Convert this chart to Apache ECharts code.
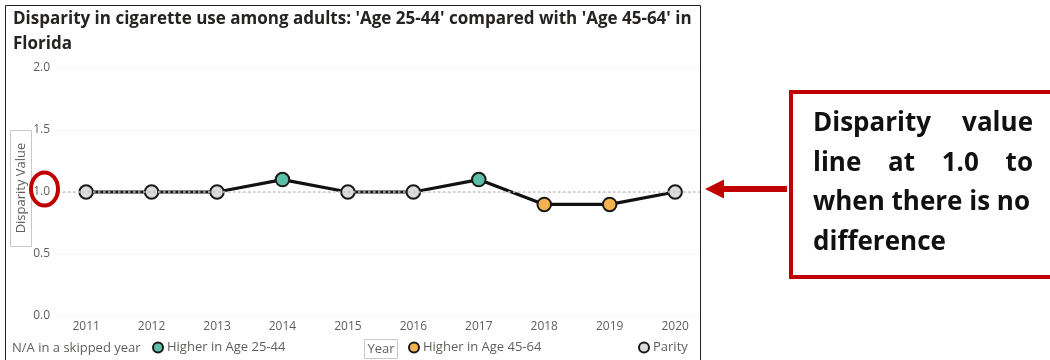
<!DOCTYPE html>
<html>
<head>
<meta charset="utf-8">
<script src="https://cdn.jsdelivr.net/npm/echarts@6/dist/echarts.min.js"></script>
<style>
  html, body { margin: 0; padding: 0; background: #fff; }
  #chart { width: 1050px; height: 360px; }
</style>
</head>
<body>
<div id="chart"></div>
<script>
// Disparity ratio of cigarette use, Age 25-44 vs Age 45-64, Florida
const years = [2011, 2012, 2013, 2014, 2015, 2016, 2017, 2018, 2019, 2020];
const disparity = [1.0, 1.0, 1.0, 1.1, 1.0, 1.0, 1.1, 0.9, 0.9, 1.0];
const groups = ['parity', 'parity', 'parity', 'young', 'parity', 'parity', 'young', 'old', 'old', 'parity'];
const yTicks = [0, 0.5, 1.0, 1.5, 2.0];
const groupNames = {
  young: 'Higher in Age 25-44',
  old: 'Higher in Age 45-64',
  parity: 'Parity'
};
const groupColors = { young: '#5DBFA9', old: '#F6B24E', parity: '#DCDCDC' };

const titleText = "Disparity in cigarette use among adults: 'Age 25-44' compared with 'Age 45-64' in\nFlorida";
const noteLines = [
  ['Disparity', 'value'],
  ['line', 'at', '1.0', 'to'],
  ['when there is no'],
  ['difference']
];

const uiFont = '"Open Sans", "Noto Sans", sans-serif';
const axisGray = '#605E5C';

function groupData(key) {
  const out = [];
  years.forEach((y, i) => { if (groups[i] === key) out.push([y, disparity[i]]); });
  return out;
}

function markerSeries(key, z) {
  return {
    type: 'scatter',
    name: groupNames[key],
    data: groupData(key),
    symbol: 'circle',
    symbolSize: 13.5,
    z: z,
    itemStyle: { color: groupColors[key], borderColor: '#1a1a1a', borderWidth: 2, opacity: 1 },
    emphasis: { disabled: true }
  };
}

// Justified note text: words spread between left and right edges
const noteLeft = 813, noteRight = 1033, noteTop = 124, noteStep = 39.5;
const noteFont = 'bold 26px "Open Sans", sans-serif';
const measureCtx = document.createElement('canvas').getContext('2d');
measureCtx.font = noteFont;
const noteGraphics = [];
noteLines.forEach((words, li) => {
  const y = noteTop + li * noteStep;
  const widths = words.map(w => measureCtx.measureText(w).width);
  const total = widths.reduce((a, b) => a + b, 0);
  const gap = words.length > 1 ? (noteRight - noteLeft - total) / (words.length - 1) : 0;
  let x = noteLeft;
  words.forEach((w, wi) => {
    noteGraphics.push({
      type: 'text', x: x, y: y, z: 100,
      style: { text: w, font: noteFont, fill: '#111', verticalAlign: 'middle' }
    });
    x += widths[wi] + gap;
  });
});

const chart = echarts.init(document.getElementById('chart'), null, { renderer: 'canvas' });

chart.setOption({
  backgroundColor: '#ffffff',
  animation: false,
  title: {
    text: titleText,
    left: 8,
    top: 2,
    textStyle: { fontFamily: uiFont, fontWeight: 'bold', fontSize: 17, color: '#252423', lineHeight: 25 }
  },
  grid: { left: 58, right: 350, top: 68, bottom: 44 },
  xAxis: {
    type: 'value',
    min: 2010.57,
    max: 2020.38,
    axisLine: { show: false },
    axisTick: { show: false },
    splitLine: { show: false },
    axisLabel: {
      customValues: years,
      formatter: v => String(Math.round(v)),
      color: axisGray,
      fontFamily: uiFont,
      fontSize: 12,
      margin: 5
    }
  },
  yAxis: {
    type: 'value',
    min: 0,
    max: 2,
    interval: 0.5,
    axisLine: { show: false },
    axisTick: { show: false },
    axisLabel: {
      formatter: v => v.toFixed(1),
      color: axisGray,
      fontFamily: uiFont,
      fontSize: 12,
      margin: 8
    },
    splitLine: { lineStyle: { color: '#DCDCDC', type: [1, 3], width: 1 } }
  },
  legend: [
    { data: [groupNames.young], left: 150, top: 339 },
    { data: [groupNames.old], left: 406, top: 339 },
    { data: [groupNames.parity], left: 636, top: 339 }
  ].map(l => Object.assign(l, {
    icon: 'circle', itemWidth: 10, itemHeight: 10, itemGap: 4, padding: 2,
    selectedMode: false,
    textStyle: { color: axisGray, fontFamily: uiFont, fontSize: 13, padding: [0, 0, 0, -1] }
  })),
  series: [
    {
      type: 'line',
      name: 'Disparity',
      data: years.map((y, i) => [y, disparity[i]]),
      showSymbol: false,
      z: 2,
      lineStyle: { color: '#111111', width: 3.2 },
      emphasis: { disabled: true }
    },
    {
      // no-difference reference at 1.0
      type: 'scatter',
      name: 'ref',
      data: [],
      z: 3,
      markLine: {
        silent: true,
        symbol: 'none',
        label: { show: false },
        lineStyle: { color: '#C4C4C4', type: [2.5, 2.5], width: 1.5 },
        data: [{ yAxis: 1.0 }]
      }
    },
    markerSeries('parity', 4),
    markerSeries('young', 4),
    markerSeries('old', 4)
  ],
  graphic: [
    // panel frame
    { type: 'rect', shape: { x: 5.5, y: 5.5, width: 695, height: 360 }, style: { fill: 'none', stroke: '#222', lineWidth: 1 }, z: 0, silent: true },
    // y-axis title box
    { type: 'rect', shape: { x: 10.5, y: 130.5, width: 21, height: 116 }, style: { fill: '#fff', stroke: '#C8C8C8', lineWidth: 1 }, z: 5 },
    { type: 'text', x: 21, y: 188, rotation: Math.PI / 2,
      style: { text: 'Disparity Value', font: '13px ' + uiFont, fill: axisGray, align: 'center', verticalAlign: 'middle' }, z: 6 },
    // highlight around the 1.0 tick
    { type: 'ellipse', shape: { cx: 44.5, cy: 189, rx: 13.5, ry: 16.5 }, style: { fill: 'none', stroke: '#C00000', lineWidth: 4 }, z: 50 },
    // bottom captions
    { type: 'text', x: 12, y: 348, style: { text: 'N/A in a skipped year', font: '13px ' + uiFont, fill: axisGray, verticalAlign: 'middle' }, z: 5 },
    { type: 'rect', shape: { x: 364.5, y: 339.5, width: 33, height: 19 }, style: { fill: '#fff', stroke: '#C8C8C8', lineWidth: 1 }, z: 5 },
    { type: 'text', x: 381, y: 349, style: { text: 'Year', font: '13px ' + uiFont, fill: axisGray, align: 'center', verticalAlign: 'middle' }, z: 6 },
    // pointer arrow
    { type: 'line', shape: { x1: 787, y1: 189, x2: 720, y2: 189 }, style: { stroke: '#C00000', lineWidth: 6 }, z: 50 },
    { type: 'polygon', shape: { points: [[705, 189], [724, 179.5], [724, 198.5]] }, style: { fill: '#C00000' }, z: 50 },
    // note box
    { type: 'rect', shape: { x: 791, y: 92, width: 270, height: 185 }, style: { fill: '#fff', stroke: '#C00000', lineWidth: 4 }, z: 40 }
  ].concat(noteGraphics)
});
</script>
</body>
</html>
